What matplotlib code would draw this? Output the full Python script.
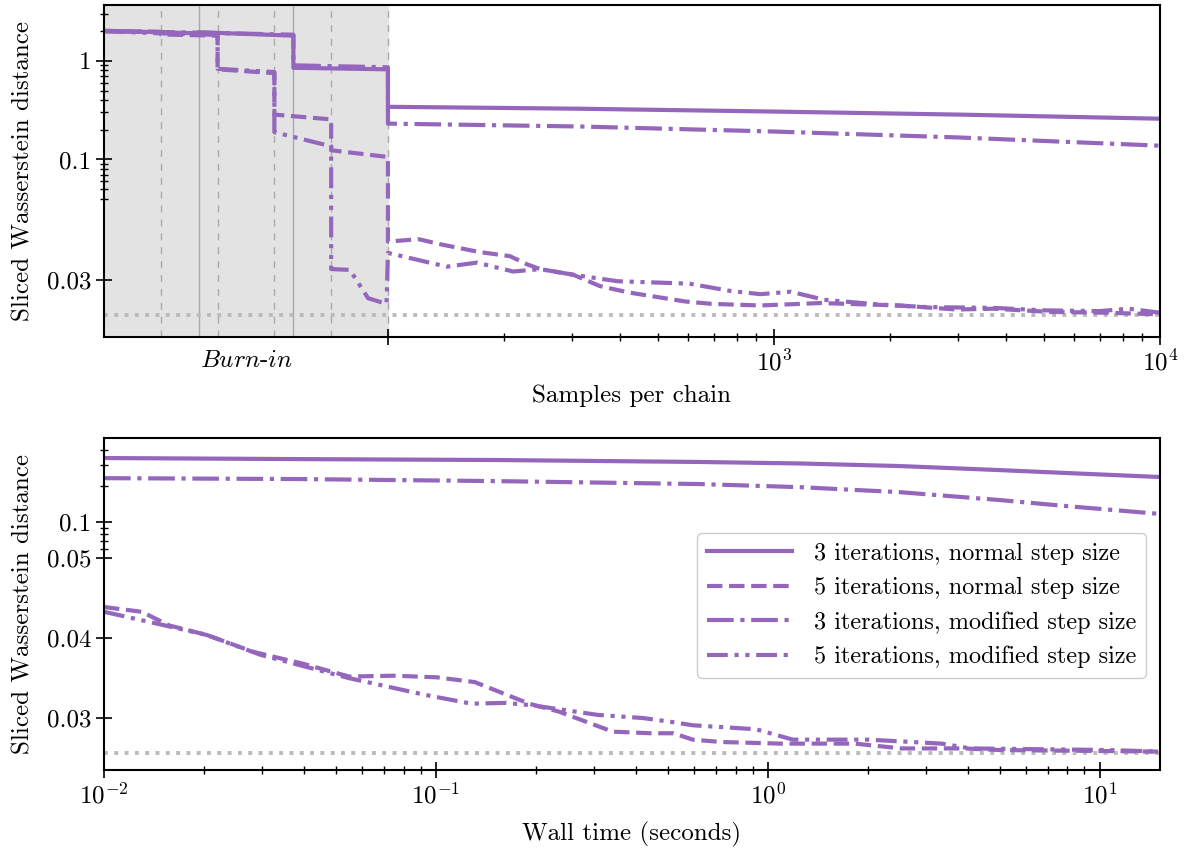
import matplotlib
matplotlib.use("Agg")
import matplotlib.pyplot as plt
from matplotlib.ticker import FixedLocator, FixedFormatter, NullFormatter, LogLocator

plt.rcParams['font.family'] = 'cmr10'
plt.rcParams['mathtext.fontset'] = 'cm'
plt.rcParams['axes.formatter.use_mathtext'] = True
plt.rcParams['font.size'] = 18

purple = '#9467bd'
floor = 0.0256

# ---- top panel: samples per chain (burn-in of 100 samples, then log) ----
top_solid_x = [0, 33.3, 33.3, 66.7, 66.7, 100, 100, 314, 1000, 3030, 10000]
top_solid_y = [2.02, 1.90, 1.95, 1.80, 0.85, 0.82, 0.342, 0.327, 0.306, 0.285, 0.259]

top_dashed_x = [0, 20, 20, 40, 40, 60, 60, 80, 80, 100, 100, 120, 139, 173, 207, 229, 248,
                302, 354, 421, 588, 689, 922, 1320, 2110, 2970, 3710, 5200, 7280, 10000]
top_dashed_y = [2.0, 1.97, 1.85, 1.80, 0.82, 0.75, 0.285, 0.255, 0.124, 0.106, 0.0347, 0.0350,
                0.0343, 0.0334, 0.0329, 0.0319, 0.0313, 0.0306, 0.0292, 0.0284, 0.0273, 0.0270,
                0.0268, 0.0271, 0.0268, 0.0263, 0.0264, 0.0260, 0.0259, 0.0257]

top_dashdot_x = [0, 33.3, 66.7, 66.7, 100, 100, 314, 1000, 3030, 10000]
top_dashdot_y = [2.0, 1.93, 1.84, 0.90, 0.86, 0.231, 0.216, 0.192, 0.167, 0.138]

top_dashdotdot_x = [0, 20, 40, 40, 60, 60, 80, 80, 86.6, 93, 99.5, 100, 142, 170, 211, 248,
                    302, 393, 603, 770, 922, 1105, 1350, 1895, 2485, 3710, 4980, 6960, 8300, 10000]
top_dashdotdot_y = [2.0, 1.9, 1.83, 0.83, 0.77, 0.189, 0.136, 0.0313, 0.0312, 0.0277, 0.0270,
                    0.0333, 0.0316, 0.0321, 0.0310, 0.0313, 0.0306, 0.0298, 0.0295, 0.0286,
                    0.0282, 0.0285, 0.0275, 0.0269, 0.0266, 0.0265, 0.0262, 0.0261, 0.0264, 0.0259]

burnin_phase3 = [33.3, 66.7]
burnin_phase5 = [20, 40, 60, 80, 100]

# ---- bottom panel: wall time ----
bot_solid_t = [0.01, 0.039, 0.156, 0.624, 1.25, 2.5, 5.0, 8.0, 15.3]
bot_solid = [0.343, 0.336, 0.330, 0.318, 0.309, 0.294, 0.272, 0.257, 0.238]

bot_dashdot_t = [0.01, 0.039, 0.156, 0.624, 1.25, 2.5, 5.0, 8.0, 15.3]
bot_dashdot = [0.233, 0.229, 0.220, 0.208, 0.196, 0.178, 0.153, 0.136, 0.117]

bot_dashed_t = [0.01, 0.013, 0.0157, 0.0204, 0.0281, 0.0398, 0.0547, 0.0752, 0.1007, 0.131,
                0.191, 0.235, 0.341, 0.444, 0.52, 0.594, 0.727, 1.10, 1.83, 2.53, 3.89, 5.0, 15.3]
bot_dashed = [0.0439, 0.0433, 0.0416, 0.0404, 0.0383, 0.0368, 0.0352, 0.0353, 0.0351, 0.0345,
              0.0318, 0.0308, 0.0283, 0.0281, 0.0281, 0.0273, 0.0270, 0.0268, 0.0268, 0.0262,
              0.0262, 0.0260, 0.0258]

bot_dashdotdot_t = [0.01, 0.0145, 0.0204, 0.0297, 0.0547, 0.0929, 0.128, 0.162, 0.195, 0.307,
                    0.421, 0.516, 0.594, 0.922, 1.19, 2.01, 3.34, 4.08, 10.6, 15.3]
bot_dashdotdot = [0.0433, 0.0418, 0.0404, 0.0379, 0.0350, 0.0329, 0.0318, 0.0319, 0.0316,
                  0.0304, 0.0300, 0.0295, 0.0291, 0.0286, 0.0273, 0.0273, 0.0268, 0.0262,
                  0.0260, 0.0258]

labels = ['3 iterations, normal step size', '5 iterations, normal step size',
          '3 iterations, modified step size', '5 iterations, modified step size']
styles = ['-', '--', '-.', (0, (5, 1.6, 1, 1.6, 1, 1.6))]
lw = 3

fig = plt.figure(figsize=(11.94, 8.49), dpi=100)
ax1 = fig.add_axes([104 / 1194, 1 - 337 / 849, 1056 / 1194, 332 / 849])
ax2 = fig.add_axes([104 / 1194, 1 - 770 / 849, 1056 / 1194, 332 / 849])


def style_axes(ax):
    for s in ax.spines.values():
        s.set_linewidth(1.5)
    ax.tick_params(which='major', direction='inout', length=11, width=1.2, labelsize=18)
    ax.tick_params(which='minor', direction='inout', length=6, width=1.0)


# top
ax1.set_xscale('symlog', linthresh=100, linscale=0.662)
ax1.set_yscale('symlog', linthresh=0.04, linscale=2.95)
ax1.axvspan(0, 100, color='#e3e3e3', zorder=0)
for x in burnin_phase5:
    ax1.axvline(x, color='#aaaaaa', lw=1, ls=(0, (5, 5)), zorder=1)
for x in burnin_phase3:
    ax1.axvline(x, color='#aaaaaa', lw=1, zorder=1)
ax1.axhline(floor, color='#bbbbbb', lw=2.8, ls=':', zorder=1)
ax1.plot(top_solid_x, top_solid_y, color=purple, lw=lw, ls=styles[0])
ax1.plot(top_dashed_x, top_dashed_y, color=purple, lw=lw, ls=styles[1])
ax1.plot(top_dashdot_x, top_dashdot_y, color=purple, lw=lw, ls=styles[2])
ax1.plot(top_dashdotdot_x, top_dashdotdot_y, color=purple, lw=lw, ls=styles[3])
ax1.set_xlim(0, 10000)
ax1.set_ylim(0.0229, 3.68)
ax1.xaxis.set_major_locator(FixedLocator([50, 100, 1000, 10000]))
ax1.xaxis.set_major_formatter(FixedFormatter([r'$\mathit{Burn}$-$\mathit{in}$', '', r'$10^{3}$', r'$10^{4}$']))
ax1.xaxis.set_minor_locator(FixedLocator([200, 300, 400, 500, 600, 700, 800, 900,
                                          2000, 3000, 4000, 5000, 6000, 7000, 8000, 9000]))
ax1.xaxis.set_minor_formatter(NullFormatter())
ax1.yaxis.set_major_locator(FixedLocator([0.03, 0.1, 1]))
ax1.yaxis.set_major_formatter(FixedFormatter(['0.03', '0.1', '1']))
ax1.yaxis.set_minor_locator(FixedLocator([0.04, 0.05, 0.06, 0.07, 0.08, 0.09,
                                          0.2, 0.3, 0.4, 0.5, 0.6, 0.7, 0.8, 0.9, 2, 3]))
ax1.yaxis.set_minor_formatter(NullFormatter())
style_axes(ax1)
ax1.xaxis.get_major_ticks()[0].tick1line.set_visible(False)
ax1.set_xlabel('Samples per chain', fontsize=18)
ax1.set_ylabel('Sliced Wasserstein distance', fontsize=18)
ax1.xaxis.set_label_coords(0.5, -0.143)
ax1.yaxis.set_label_coords(-0.066, 0.5)

# bottom
ax2.set_xscale('log')
ax2.set_yscale('symlog', linthresh=0.05, linscale=3.0)
ax2.axhline(floor, color='#bbbbbb', lw=2.8, ls=':', zorder=1)
ax2.plot(bot_solid_t, bot_solid, color=purple, lw=lw, ls=styles[0], label=labels[0])
ax2.plot(bot_dashed_t, bot_dashed, color=purple, lw=lw, ls=styles[1], label=labels[1])
ax2.plot(bot_dashdot_t, bot_dashdot, color=purple, lw=lw, ls=styles[2], label=labels[2])
ax2.plot(bot_dashdotdot_t, bot_dashdotdot, color=purple, lw=lw, ls=styles[3], label=labels[3])
ax2.set_xlim(0.01, 15.2)
ax2.set_ylim(0.0235, 0.504)
ax2.xaxis.set_major_locator(LogLocator(base=10))
ax2.xaxis.set_minor_locator(LogLocator(base=10, subs=range(2, 10)))
ax2.xaxis.set_minor_formatter(NullFormatter())
ax2.yaxis.set_major_locator(FixedLocator([0.03, 0.04, 0.05, 0.1]))
ax2.yaxis.set_major_formatter(FixedFormatter(['0.03', '0.04', '0.05', '0.1']))
ax2.yaxis.set_minor_locator(FixedLocator([0.06, 0.07, 0.08, 0.09, 0.2, 0.3, 0.4]))
ax2.yaxis.set_minor_formatter(NullFormatter())
style_axes(ax2)
ax2.set_xlabel('Wall time (seconds)', fontsize=18)
ax2.set_ylabel('Sliced Wasserstein distance', fontsize=18)
ax2.xaxis.set_label_coords(0.5, -0.155)
ax2.yaxis.set_label_coords(-0.066, 0.5)
ax2.legend(loc='upper left', bbox_to_anchor=(697 / 1194, 1 - 533 / 849),
           bbox_transform=fig.transFigure, borderaxespad=0, fontsize=17.5,
           handlelength=3.5, handletextpad=0.9, edgecolor='#cccccc', framealpha=1)

fig.savefig('out.png', dpi=100)
